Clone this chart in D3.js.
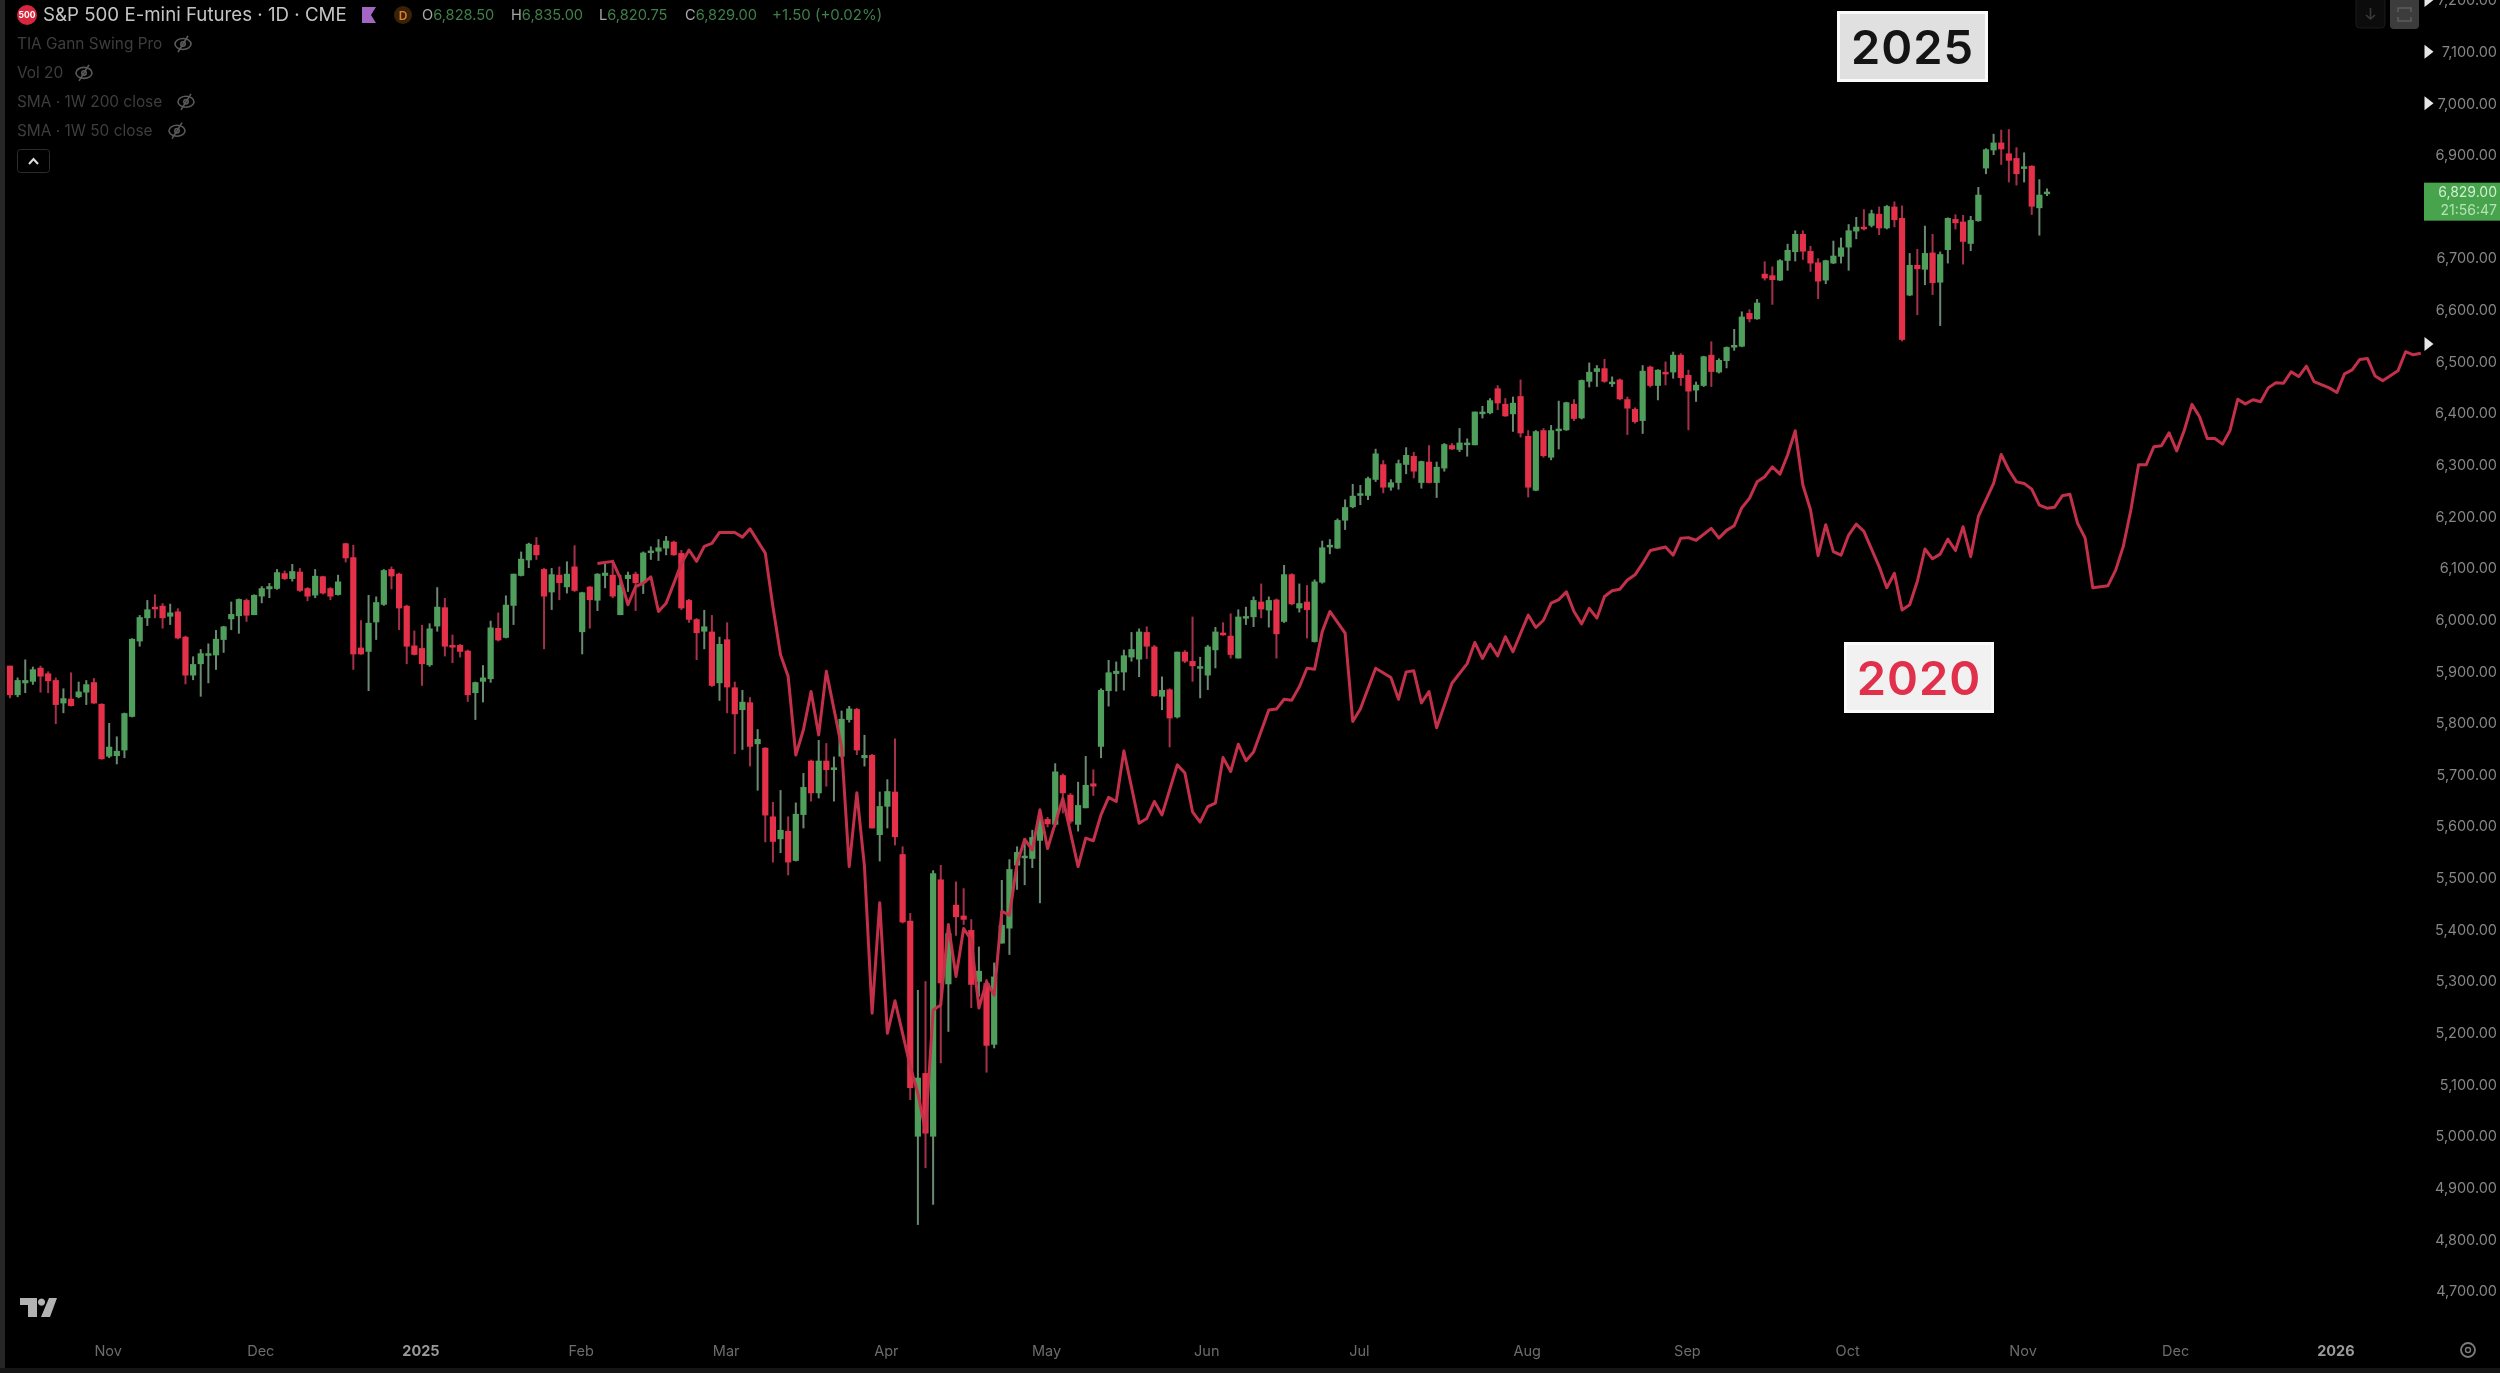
<!DOCTYPE html>
<html><head><meta charset="utf-8">
<script src="https://cdn.jsdelivr.net/npm/d3@7/dist/d3.min.js"></script>
<style>html,body{margin:0;padding:0;background:#000;overflow:hidden}svg{display:block;filter:blur(0.55px)}text{font-family:Inter,"Liberation Sans",sans-serif}</style>
</head><body>
<script>
const opens=[5911,5854,5877,5880,5907,5896,5883,5838,5847,5850,
5859,5879,5837,5735,5736,5747,5812,5958,6003,6025,
6027,6006,6016,5967,5892,5914,5934,5931,5961,6001,
6007,6038,6009,6045,6059,6060,6090,6079,6093,6061,
6047,6084,6061,6048,6148,6121,5946,5938,5995,6029,
6098,6089,6027,5950,5945,5912,5987,6024,5951,5951,
5940,5858,5880,5885,5984,5965,6027,6085,6115,6145,
6098,6053,6087,6063,6103,5976,6064,6037,6085,6087,
6009,6079,6089,6071,6130,6132,6138,6151,6129,6038,
6001,
5977,5977,5877,5962,5869,5825,5840,5759,5752,5619,
5575,5591,5533,5622,5727,5664,5727,5709,5735,5806,
5827,5732,5738,5583,5638,5667,5546,5417,4999,5122,
4999,5497,5294,5448,5427,5399,5299,5296,5177,5373,
5402,5524,5540,5537,5572,5614,5603,5699,5661,5603,
5635,5683,5754,5862,5895,5898,5927,5923,5976,5948,
5851,5865,5811,5938,5920,5908,5892,5941,5975,5969,
5925,6005,6005,6035,6018,6039,5996,6088,6022,6035,
5957,6072,6141,6138,6192,6218,6240,6240,6271,6301,
6256,6265,6300,6317,6265,6306,6265,6293,6338,6329,
6342,6338,6400,6400,6448,6418,6398,6433,6356,6250,
6367,6314,6367,6367,6418,6390,6461,6480,6487,6460,
6465,6427,6408,6385,6490,6453,6480,6479,6513,6474,
6444,6453,6513,6479,6501,6529,6529,6594,6582,6670,
6667,6657,6695,6712,6747,6714,6692,6657,6690,6703,
6721,6752,6761,6763,6786,6758,6800,6778,6628,6687,
6678,6711,6653,6716,6776,6771,6728,6772,6874,6909,
6924,6903,6894,6874,6879,6797,6828.5];
const highs=[5911,5888,5923,5909,5911,5900,5888,5867,5898,5880,
5883,5887,5838,5800,5774,5820,5964,6009,6038,6049,
6032,6031,6022,5969,5929,5943,5954,5980,5988,6035,
6041,6041,6049,6065,6071,6098,6095,6108,6100,6063,
6098,6085,6063,6087,6149,6145,5999,6048,6045,6098,
6103,6091,6029,5979,5990,5993,6063,6042,5971,5953,
5942,5880,5912,5998,6014,6047,6089,6132,6149,6160,
6100,6100,6103,6113,6144,6054,6065,6090,6109,6116,
6087,6093,6093,6132,6142,6156,6162,6153,6135,6040,
6003,
6019,6009,5967,5995,5880,5864,5850,5788,5753,5647,
5670,5619,5646,5703,5729,5767,5761,5735,5824,5833,
5829,5777,5740,5667,5691,5770,5561,5432,5283,5300,
5515,5525,5412,5493,5480,5420,5367,5304,5336,5496,
5536,5561,5577,5593,5632,5618,5722,5702,5664,5686,
5736,5710,5867,5922,5919,5942,5976,5983,5987,5951,
5890,5867,5938,5941,6006,5928,5951,5986,5995,6012,
6020,6025,6045,6070,6045,6041,6106,6090,6070,6067,
6078,6153,6156,6196,6233,6263,6261,6277,6331,6309,
6272,6310,6334,6325,6308,6338,6306,6342,6342,6371,
6351,6403,6414,6429,6454,6429,6432,6465,6367,6367,
6371,6377,6424,6422,6427,6465,6498,6493,6505,6471,
6467,6432,6411,6493,6492,6485,6500,6519,6516,6484,
6461,6511,6539,6506,6529,6563,6597,6601,6621,6694,
6684,6698,6728,6754,6754,6724,6700,6697,6734,6740,
6766,6780,6795,6794,6800,6803,6810,6802,6710,6718,
6763,6747,6713,6779,6785,6784,6782,6838,6913,6941,
6949,6950,6915,6905,6880,6853,6835];
const lows=[5848,5850,5858,5874,5859,5858,5798,5819,5832,5848,
5835,5837,5729,5732,5720,5732,5811,5948,5988,6003,
5983,5990,5962,5875,5883,5851,5877,5903,5936,5980,
5973,5996,6009,6032,6042,6058,6077,6074,6054,6036,
6042,6049,6038,6047,6111,5903,5932,5862,5961,6027,
6059,5980,5914,5931,5872,5909,5977,5929,5916,5927,
5841,5806,5840,5878,5958,5964,5990,6084,6100,6116,
5943,6019,6038,6051,6054,5933,5983,6017,6061,6042,
6009,6054,6017,6050,6116,6114,6125,6124,6019,5994,
5922,
5943,5870,5843,5819,5740,5748,5716,5669,5569,5530,
5548,5505,5532,5596,5648,5654,5677,5648,5732,5801,
5738,5716,5596,5532,5596,5563,5412,5070,4828,4938,
4867,5141,5202,5388,5409,5248,5270,5123,5170,5373,
5351,5477,5486,5519,5451,5598,5599,5625,5605,5590,
5635,5659,5732,5832,5861,5863,5919,5889,5924,5851,
5825,5753,5809,5916,5880,5848,5864,5906,5969,5925,
5925,5990,5986,6003,5985,5925,5994,6028,6014,5964,
5956,6070,6127,6137,6174,6216,6222,6232,6267,6245,
6250,6252,6282,6274,6254,6264,6236,6287,6329,6325,
6316,6338,6390,6398,6406,6393,6364,6353,6237,6249,
6314,6309,6330,6366,6385,6388,6450,6451,6459,6451,
6425,6358,6380,6360,6450,6425,6454,6467,6453,6367,
6422,6451,6451,6477,6487,6521,6528,6576,6581,6657,
6610,6656,6676,6694,6697,6674,6621,6650,6689,6690,
6676,6737,6754,6760,6745,6756,6760,6539,6627,6590,
6648,6629,6569,6690,6756,6688,6714,6771,6863,6900,
6881,6847,6841,6847,6784,6744,6820.75];
const closes=[5854,5883,5883,5904,5890,5881,5835,5848,5833,5861,
5875,5838,5730,5754,5746,5819,5963,6005,6020,6023,
6003,6014,5964,5892,5914,5935,5935,5963,5987,6011,
6040,6008,6048,6061,6065,6092,6079,6094,6056,6045,
6085,6051,6045,6074,6119,5933,5933,5994,6034,6096,
6084,6022,5948,5932,5914,5983,6025,5948,5948,5938,
5854,5879,5888,5985,5960,6029,6089,6118,6147,6125,
6045,6088,6071,6089,6056,6053,6038,6089,6091,6045,
6067,6087,6071,6130,6134,6140,6153,6125,6022,6000,
5974,
5987,5872,5953,5869,5817,5841,5754,5769,5621,5570,
5593,5530,5624,5676,5664,5727,5709,5714,5808,5828,
5747,5738,5596,5639,5668,5579,5414,5093,5113,5005,
5509,5296,5393,5424,5419,5293,5320,5175,5309,5409,
5517,5550,5543,5579,5612,5604,5706,5664,5609,5641,
5680,5677,5864,5898,5901,5931,5943,5977,5948,5852,
5864,5809,5938,5919,5910,5910,5948,5977,5970,5932,
6006,6007,6038,6020,6038,5972,6088,6030,6032,6019,
6074,6140,6145,6193,6218,6240,6245,6274,6322,6256,
6266,6303,6319,6287,6307,6265,6296,6340,6330,6343,
6343,6403,6403,6425,6419,6394,6420,6361,6256,6365,
6317,6367,6370,6421,6389,6464,6480,6487,6461,6461,
6427,6409,6383,6482,6453,6484,6478,6513,6468,6442,
6455,6510,6480,6503,6528,6532,6587,6582,6614,6661,
6658,6696,6716,6747,6713,6690,6655,6696,6705,6721,
6754,6761,6758,6787,6758,6801,6774,6542,6687,6679,
6710,6652,6708,6778,6768,6732,6774,6823,6911,6924,
6911,6889,6863,6878,6800,6823,6829];

const line2020Bars=[77,79,80,81,82,83,84,85,86,87,88,89,90,91,92,93,95,96,97,99,100,101,102,103,104,105,106,107,109,110,111,112,113,114,115,116,118,119,120,121,122,123,124,125,126,127,128,129,130,131,132,133,134,135,136,138,140,141,142,143,144,145,146,148,149,150,151,153,154,155,156,157,158,159,160,161,162,163,165,166,167,168,169,170,171,172,173,175,176,177,179,181,182,183,184,185,186,187,189,191,192,193,194,195,196,197,199,200,201,202,203,204,205,206,207,208,209,210,211,212,213,214,215,217,218,219,220,221,223,224,225,226,227,228,229,230,231,232,233,234,235,236,237,238,239,240,241,242,243,245,246,247,248,249,250,251,252,253,254,255,256,257,258,260,261,262,263,264,265,266,267,268,269,270,271,272,273,275,276,277,278,279,280,281,282,283,284,285,286,287,288,289,290,291,292,293,294,295,296,297,298,299,300,301,302,304,305,306,307,308,309,310,311,313,314,315,316];
const line2020Prices=[6109,6113,6080,6029,6064,6071,6083,6016,6032,6070,6109,6135,6113,6142,6148,6169,6169,6160,6176,6129,6025,5932,5890,5738,5787,5861,5777,5900,5754,5522,5665,5522,5238,5452,5199,5262,5135,5083,5009,5244,5254,5409,5309,5402,5380,5248,5299,5273,5435,5428,5528,5575,5554,5632,5557,5654,5522,5577,5572,5622,5656,5648,5746,5606,5615,5648,5622,5719,5703,5628,5608,5638,5645,5733,5706,5759,5727,5744,5825,5827,5846,5844,5870,5906,5904,5977,6016,5974,5803,5827,5906,5888,5846,5899,5901,5839,5861,5791,5877,5915,5956,5925,5953,5930,5967,5938,6009,5985,5999,6032,6039,6054,6016,5992,6022,6003,6045,6056,6059,6077,6087,6109,6134,6141,6125,6158,6159,6154,6177,6158,6173,6182,6217,6235,6267,6277,6296,6282,6319,6366,6261,6213,6124,6184,6132,6125,6164,6185,6171,6103,6062,6090,6019,6029,6074,6137,6118,6127,6156,6134,6180,6122,6200,6264,6320,6290,6267,6264,6253,6222,6216,6218,6240,6243,6187,6158,6062,6066,6096,6142,6213,6300,6300,6335,6337,6362,6327,6367,6417,6393,6351,6351,6340,6367,6427,6418,6426,6422,6449,6459,6458,6480,6471,6491,6461,6449,6440,6476,6484,6504,6506,6472,6463,6482,6519,6513,6516];

const priceTicks=d3.range(4700,7201,100).filter(p=>p!==6800);
const arrowPrices=[7200,7100,7000,6534];
const timeTickBars=[13,33,54,75,94,115,136,157,177,199,220,241,264,284,305];
const timeTickLabels=["Nov","Dec","2025","Feb","Mar","Apr","May","Jun","Jul","Aug","Sep","Oct","Nov","Dec","2026"];
const yearLabels=["2025","2026"];
const indicators=["TIA Gann Swing Pro","Vol 20","SMA \u00b7 1W 200 close","SMA \u00b7 1W 50 close"];
const eyeX=[183,84,186,177];

const W=2500,H=1373;
const UP="#4f9e5c",DOWN="#e5304a",UPW="#6b8a72",DOWNW="#a5304a",LINE="#c2304a";
const svg=d3.select("body").append("svg").attr("width",W).attr("height",H).style("background","#000");
const x=d3.scaleLinear().domain([0,267]).range([10,2047]);
const y=d3.scaleLinear().domain([4700,6900]).range([1291,155]);

// chrome
svg.append("rect").attr("width",5).attr("height",H).attr("fill","#262626");
svg.append("rect").attr("y",1368).attr("width",W).attr("height",5).attr("fill","#151515");

// candles
const bars=opens.map((o,i)=>({i,o,h:highs[i],l:lows[i],c:closes[i]}));
const g=svg.append("g");
g.selectAll("line.w").data(bars).join("line").attr("class","w")
 .attr("x1",d=>x(d.i)).attr("x2",d=>x(d.i)).attr("y1",d=>y(d.h)).attr("y2",d=>y(d.l))
 .attr("stroke",d=>d.c>=d.o?UPW:DOWNW).attr("stroke-width",2);
g.selectAll("rect.b").data(bars).join("rect").attr("class","b")
 .attr("x",d=>x(d.i)-3.1).attr("width",6.2)
 .attr("y",d=>y(Math.max(d.o,d.c))).attr("height",d=>Math.max(2.5,Math.abs(y(d.o)-y(d.c))))
 .attr("fill",d=>d.c>=d.o?UP:DOWN);

// 2020 line
const lineGen=d3.line().x(d=>x(d[0])).y(d=>y(d[1]));
svg.append("path").datum(line2020Bars.map((b,i)=>[b,line2020Prices[i]]))
 .attr("d",lineGen).attr("fill","none").attr("stroke",LINE).attr("stroke-width",3).attr("stroke-linejoin","round");

// price axis
const ay=svg.append("g").attr("transform","translate(2497,0)").call(d3.axisLeft(y).tickValues(priceTicks).tickSize(0).tickPadding(0).tickFormat(d3.format(",.2f")));
ay.select(".domain").remove();
ay.selectAll("text").attr("fill","#858585").attr("font-size",14.5).style("font-family","Inter").attr("text-anchor","end");

// arrows
const tri=p=>{const Y=y(p);return `M2424.5,${Y-7}L2433.5,${Y}L2424.5,${Y+7}Z`;};
svg.selectAll("path.tr").data(arrowPrices).join("path").attr("d",tri).attr("fill","#e6e6e6");

// last price tag
const tagY=y(closes[closes.length-1]);
svg.append("rect").attr("x",2424).attr("y",tagY-9).attr("width",76).attr("height",38).attr("fill","#47a34c");
svg.append("text").attr("x",2497).attr("y",tagY+5).attr("text-anchor","end").attr("font-size",14).attr("fill","#cfeecf").text(d3.format(",.2f")(closes[closes.length-1]));
svg.append("text").attr("x",2497).attr("y",tagY+23).attr("text-anchor","end").attr("font-size",14).attr("fill","#b5e2b5").text("21:56:47");

// time axis
const ax=svg.append("g").attr("transform","translate(-1.5,1356)").call(d3.axisBottom(x).tickValues(timeTickBars).tickSize(0).tickPadding(0).tickFormat((d,i)=>timeTickLabels[i]));
ax.select(".domain").remove();
ax.selectAll("text").attr("y",0).attr("dy",0).attr("font-size",14.5).style("font-family","Inter")
 .attr("fill",(d,i)=>yearLabels.includes(timeTickLabels[i])?"#9a9a9a":"#6c6c6c")
 .attr("font-weight",(d,i)=>yearLabels.includes(timeTickLabels[i])?700:400);

// header
svg.append("circle").attr("cx",27).attr("cy",15).attr("r",10).attr("fill","#d7263d");
svg.append("text").attr("x",27).attr("y",18).attr("text-anchor","middle").attr("font-size",8.5).attr("font-weight",700).attr("fill","#fff").text("500");
svg.append("text").attr("x",43).attr("y",21).attr("font-size",18.7).attr("fill","#c4c4c4").text("S&P 500 E-mini Futures \u00b7 1D \u00b7 CME");
svg.append("path").attr("d","M362,7H376L371,15L376,23H362Z").attr("fill","#a266c4");
svg.append("circle").attr("cx",403).attr("cy",15).attr("r",9).attr("fill","#3a2208");
svg.append("text").attr("x",403).attr("y",19.5).attr("text-anchor","middle").attr("font-size",12).attr("font-weight",600).attr("fill","#d9822b").text("D");
const ohlc=[[422,"O","6,828.50"],[511,"H","6,835.00"],[599,"L","6,820.75"],[685,"C","6,829.00"]];
ohlc.forEach(([px,k,v])=>{
  const t=svg.append("text").attr("x",px).attr("y",20).attr("font-size",14.6);
  t.append("tspan").attr("fill","#a8a8a8").text(k);
  t.append("tspan").attr("fill","#3f8049").text(v);
});
svg.append("text").attr("x",772).attr("y",20).attr("font-size",15).attr("fill","#3f8049").text("+1.50 (+0.02%)");

indicators.forEach((t,i)=>{
  const Y=44+i*28.9;
  svg.append("text").attr("x",17).attr("y",Y+5).attr("font-size",15.4).attr("fill","#3e3e3e").text(t);
  const e=svg.append("g").attr("transform",`translate(${eyeX[i]},${Y})`).attr("fill","none").attr("stroke","#5a5a5a").attr("stroke-width",1.6);
  e.append("ellipse").attr("rx",8).attr("ry",5.5);
  e.append("circle").attr("r",2.2);
  e.append("line").attr("x1",-5).attr("y1",8).attr("x2",5).attr("y2",-8);
});
svg.append("rect").attr("x",17.5).attr("y",149.5).attr("width",32).attr("height",23).attr("rx",3).attr("fill","none").attr("stroke","#2c2c2c");
svg.append("path").attr("d","M29,164L33.5,159L38,164").attr("fill","none").attr("stroke","#ddd").attr("stroke-width",2);

// top-right buttons
svg.append("rect").attr("x",2356).attr("y",-3).attr("width",29).attr("height",31).attr("rx",4).attr("fill","#0c0c0c").attr("stroke","#1b1b1b");
svg.append("path").attr("d","M2370.5,8V19M2366,15L2370.5,19L2375,15").attr("fill","none").attr("stroke","#3a3a3a").attr("stroke-width",1.6);
svg.append("rect").attr("x",2390).attr("y",-3).attr("width",29).attr("height",32).attr("rx",4).attr("fill","#3c3c3c");
svg.append("path").attr("d","M2398,12V8H2411V12M2398,17V21H2411V17").attr("fill","none").attr("stroke","#5c5c5c").attr("stroke-width",1.6);

// gear
const gear=svg.append("g").attr("transform","translate(2468,1350)").attr("fill","none").attr("stroke","#7c7c7c");
gear.append("circle").attr("r",7).attr("stroke-width",1.8);
gear.append("circle").attr("r",2.5).attr("stroke-width",1.4);

// TV logo
svg.append("path").attr("d","M20,1298H37V1317H28V1305H20ZM41.5,1298.5A3.6,3.6 0 1 1 41.49,1298.5ZM49,1298H57L50,1317H41Z").attr("fill","#b2b2b2");

// year stamps
const stamp=(x0,y0,w,h,fill,color,txt)=>{
  svg.append("rect").attr("x",x0+1.5).attr("y",y0+1.5).attr("width",w-3).attr("height",h-3).attr("fill",fill).attr("stroke","#fafafa").attr("stroke-width",3);
  svg.append("text").attr("x",x0+w/2).attr("y",y0+h/2+17).attr("text-anchor","middle").attr("font-size",47).attr("font-weight",600).attr("letter-spacing",1).attr("fill",color).text(txt);
};
stamp(1837,11,151,71,"#e0e0e0","#141414","2025");
stamp(1844,642,150,71,"#f1f1f1","#e0304b","2020");
</script>
</body></html>
